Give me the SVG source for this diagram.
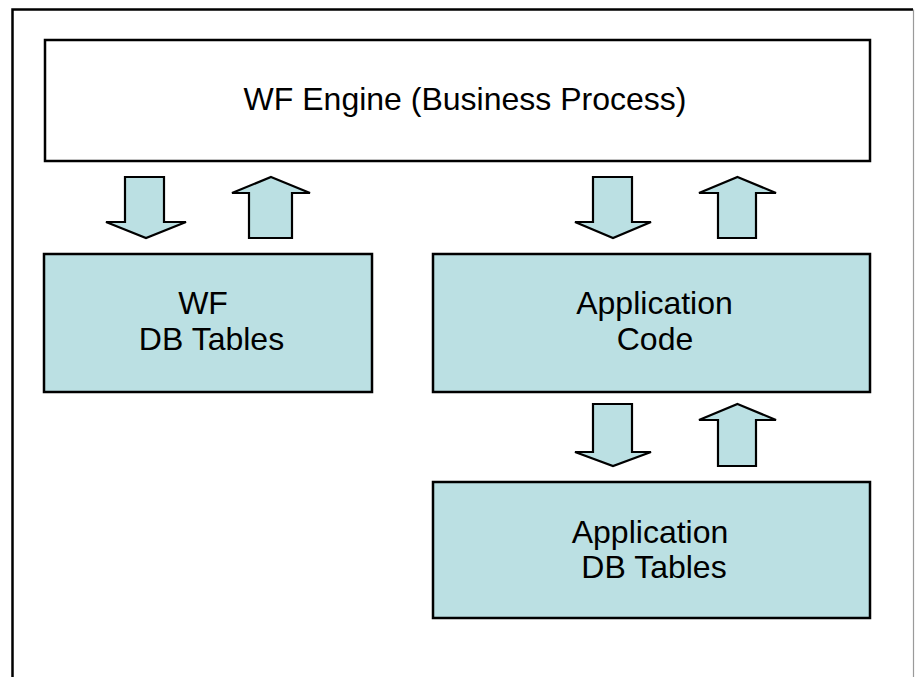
<svg xmlns="http://www.w3.org/2000/svg" width="916" height="677" viewBox="0 0 916 677">
  <style>
    .frame { fill: none; stroke: #000000; stroke-width: 2.5; }
    .frame-edge { fill: none; stroke: #9a9a9a; stroke-width: 1.2; }
    .node { fill: #BBE0E3; stroke: #000000; stroke-width: 2.5; }
    .engine { fill: #ffffff; stroke: #000000; stroke-width: 2.5; }
    .arrow { fill: #BBE0E3; stroke: #000000; stroke-width: 2.2; stroke-linejoin: miter; }
    .label { font-family: "Liberation Sans", Arial, sans-serif; fill: #000000; text-anchor: middle; }
    .title { font-size: 32px; }
    .box { font-size: 32px; }
  </style>

  <rect width="916" height="677" fill="#ffffff"/>

  <!-- outer frame: left and top edges run off the bottom; right edge is faint -->
  <path class="frame" d="M12.5,700 V9.5 H913"/>
  <path class="frame-edge" d="M913.5,9.5 V700"/>

  <g id="wf-engine">
    <rect class="engine" x="45" y="40" width="825" height="121"/>
    <text class="label title" x="465" y="110">WF Engine (Business Process)</text>
  </g>

  <g id="wf-db-tables">
    <rect class="node" x="44" y="254" width="328" height="138"/>
    <text class="label box" x="203" y="314">WF</text>
    <text class="label box" x="211.5" y="350">DB Tables</text>
  </g>

  <g id="application-code">
    <rect class="node" x="433" y="254" width="437" height="138"/>
    <text class="label box" x="654.5" y="314">Application</text>
    <text class="label box" x="655" y="350">Code</text>
  </g>

  <g id="application-db-tables">
    <rect class="node" x="433" y="482" width="437" height="136"/>
    <text class="label box" x="650" y="543">Application</text>
    <text class="label box" x="654" y="578">DB Tables</text>
  </g>

  <!-- block arrows between layers -->
  <g id="connectors">
    <polygon class="arrow" points="125,177 164,177 164,222 186,222 146,238 106,222 125,222"/>
    <polygon class="arrow" points="271,177 310,193 292,193 292,238 249,238 249,193 232,193"/>
    <polygon class="arrow" points="593,177 632,177 632,222 651,222 613,238 575,222 593,222"/>
    <polygon class="arrow" points="737.5,177 776,193 756,193 756,238 718,238 718,193 699,193"/>
    <polygon class="arrow" points="593,404 632,404 632,452 651,452 613,466 575,452 593,452"/>
    <polygon class="arrow" points="737.5,404 776,420 756,420 756,466 718,466 718,420 699,420"/>
  </g>
</svg>
